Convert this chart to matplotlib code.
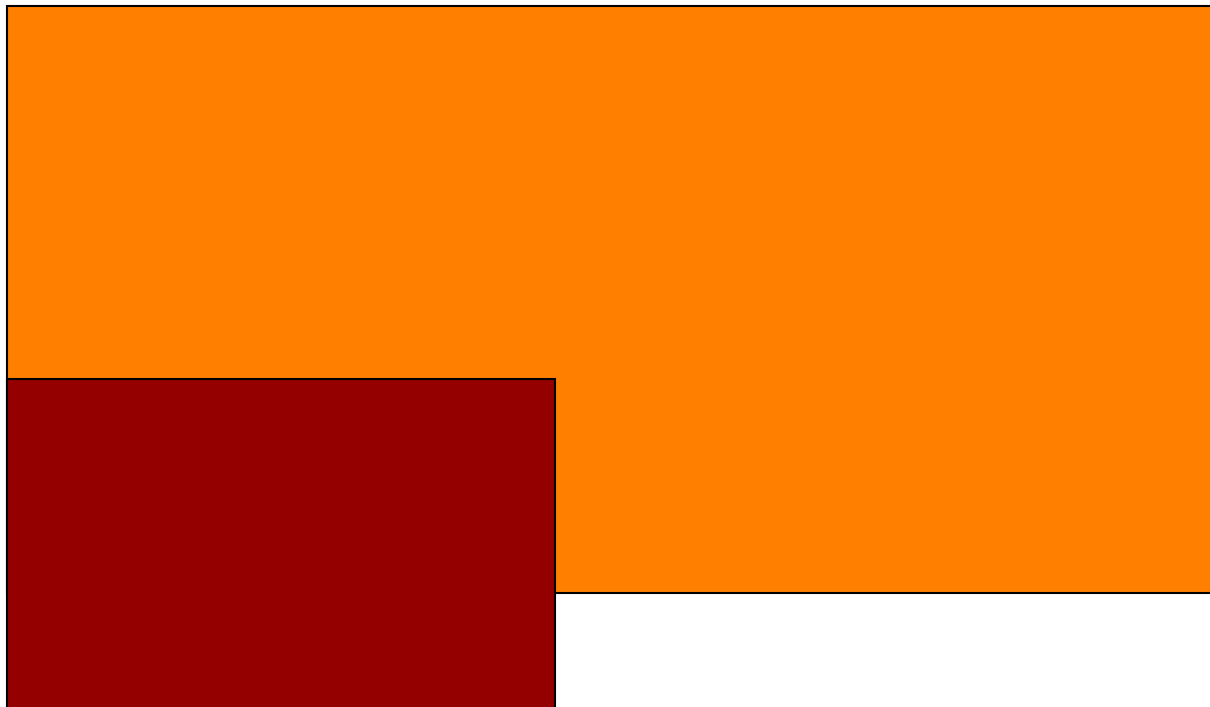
import matplotlib
matplotlib.use("Agg")
import matplotlib.pyplot as plt
from matplotlib.patches import Rectangle

# Blocks: left, top, right, bottom (in canvas units), fill colour
names = ["big", "small"]
lefts = [7, 7]
tops = [6, 379]
rights = [1240, 555]
bottoms = [593, 740]
colors = ["#ff8000", "#940000"]

fig = plt.figure(figsize=(12.1, 7.07), dpi=100)
ax = fig.add_axes([0, 0, 1, 1])
ax.set_xlim(0, 1210)
ax.set_ylim(707, 0)
ax.axis("off")

# Draws each block, later ones on top
for i in range(len(names)):
    rect = Rectangle((lefts[i], tops[i]), rights[i] - lefts[i], bottoms[i] - tops[i],
                     facecolor=colors[i], edgecolor="black", linewidth=1.5)
    ax.add_patch(rect)

fig.savefig("out.png", dpi=100)
